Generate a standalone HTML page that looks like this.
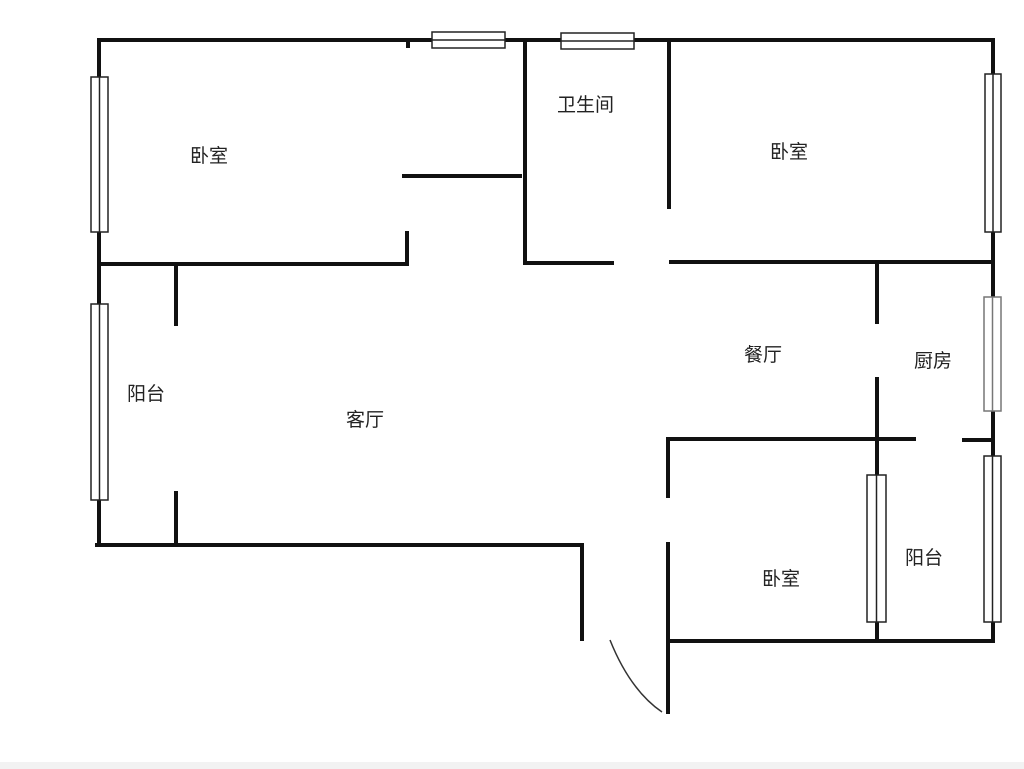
<!DOCTYPE html>
<html><head><meta charset="utf-8"><style>
html,body{margin:0;padding:0;background:#fff;}
svg{display:block}
text{font-family:"Liberation Sans","Noto Sans CJK SC",sans-serif;font-size:19px;fill:#222;}
</style></head><body>
<svg width="1024" height="769" viewBox="0 0 1024 769" xmlns="http://www.w3.org/2000/svg">
<rect width="1024" height="769" fill="#fff"/>
<g stroke="#111" stroke-width="4" fill="none" stroke-linecap="square">
<line x1="99" y1="40" x2="993" y2="40"/>
<line x1="99" y1="40" x2="99" y2="545"/>
<line x1="993" y1="40" x2="993" y2="641"/>
<line x1="99" y1="264" x2="407" y2="264"/>
<line x1="407" y1="233" x2="407" y2="264"/>
<line x1="408" y1="40" x2="408" y2="46"/>
<line x1="404" y1="176" x2="520" y2="176"/>
<line x1="525" y1="40" x2="525" y2="263"/>
<line x1="525" y1="263" x2="612" y2="263"/>
<line x1="669" y1="40" x2="669" y2="207"/>
<line x1="671" y1="262" x2="993" y2="262"/>
<line x1="877" y1="262" x2="877" y2="322"/>
<line x1="877" y1="379" x2="877" y2="641"/>
<line x1="668" y1="439" x2="914" y2="439"/>
<line x1="964" y1="440" x2="993" y2="440"/>
<line x1="668" y1="439" x2="668" y2="496"/>
<line x1="668" y1="544" x2="668" y2="712"/>
<line x1="668" y1="641" x2="993" y2="641"/>
<line x1="176" y1="264" x2="176" y2="324"/>
<line x1="176" y1="493" x2="176" y2="545"/>
<line x1="97" y1="545" x2="582" y2="545"/>
<line x1="582" y1="545" x2="582" y2="639"/>
</g>
<path d="M610 640 Q630 690 662 712" stroke="#333" stroke-width="1.5" fill="none"/>
<g stroke="#222" stroke-width="1.5" fill="#fff">
<rect x="432" y="32" width="73" height="16"/><line x1="432" y1="40" x2="505" y2="40"/>
<rect x="561" y="33" width="73" height="16"/><line x1="561" y1="41" x2="634" y2="41"/>
<rect x="91" y="77" width="17" height="155"/><line x1="99.5" y1="77" x2="99.5" y2="232"/>
<rect x="91" y="304" width="17" height="196"/><line x1="99.5" y1="304" x2="99.5" y2="500"/>
<rect x="985" y="74" width="16" height="158"/><line x1="993" y1="74" x2="993" y2="232"/>
<rect x="984" y="456" width="17" height="166"/><line x1="992.5" y1="456" x2="992.5" y2="622"/>
<rect x="867" y="475" width="19" height="147"/><line x1="876.5" y1="475" x2="876.5" y2="622"/>
</g>
<g stroke="#777" stroke-width="1.5" fill="#fff">
<rect x="984" y="297" width="17" height="114"/><line x1="992.5" y1="297" x2="992.5" y2="411"/>
</g>
<text x="190" y="162">卧室</text>
<text x="557" y="111">卫生间</text>
<text x="770" y="158">卧室</text>
<text x="127" y="400">阳台</text>
<text x="346" y="426">客厅</text>
<text x="744" y="361">餐厅</text>
<text x="914" y="367">厨房</text>
<text x="762" y="585">卧室</text>
<text x="905" y="564">阳台</text>
<rect x="0" y="762" width="1024" height="7" fill="#f2f2f2"/>
</svg>
</body></html>
